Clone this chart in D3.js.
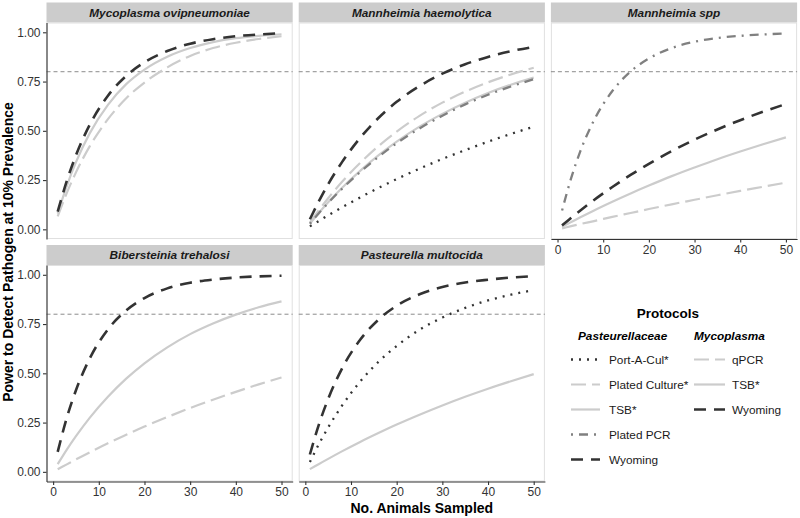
<!DOCTYPE html>
<html><head><meta charset="utf-8">
<script src="https://cdn.jsdelivr.net/npm/d3@7"></script>
<style>body{margin:0;background:#fff} svg{display:block} text{font-family:"Liberation Sans",Arial,Helvetica,sans-serif}</style>
</head><body><svg id="c" width="800" height="518"></svg>
<script>
// ---------- data ----------
const nSampled = [1, 3, 5, 8, 12, 16, 20, 25, 30, 35, 40, 45, 50];
const panelNames = ["Mycoplasma ovipneumoniae", "Mannheimia haemolytica", "Mannheimia spp", "Bibersteinia trehalosi", "Pasteurella multocida"];
const xTickValues = [0, 10, 20, 30, 40, 50];
const yTickValues = [0, 0.25, 0.5, 0.75, 1];
const thresholdPower = 0.8;
const pasteurellaceaeProtocols = ["Port-A-Cul*", "Plated Culture*", "TSB*", "Plated PCR", "Wyoming"];
const mycoplasmaProtocols = ["qPCR", "TSB*", "Wyoming"];

// Mycoplasma ovipneumoniae
const movi_qPCR    = [0.066, 0.185, 0.289, 0.421, 0.559, 0.665, 0.745, 0.822, 0.880, 0.920, 0.947, 0.966, 0.980];
const movi_TSB     = [0.080, 0.221, 0.341, 0.487, 0.632, 0.737, 0.811, 0.876, 0.920, 0.950, 0.970, 0.982, 0.990];
const movi_Wyoming = [0.090, 0.246, 0.376, 0.530, 0.678, 0.779, 0.848, 0.905, 0.942, 0.965, 0.980, 0.989, 0.995];
// Mannheimia haemolytica
const mh_PortACul      = [0.015, 0.043, 0.071, 0.111, 0.162, 0.210, 0.255, 0.308, 0.357, 0.402, 0.445, 0.484, 0.521];
const mh_PlatedCulture = [0.034, 0.098, 0.158, 0.240, 0.337, 0.422, 0.496, 0.576, 0.643, 0.699, 0.746, 0.786, 0.820];
const mh_TSB           = [0.029, 0.084, 0.137, 0.210, 0.297, 0.375, 0.445, 0.521, 0.586, 0.643, 0.692, 0.734, 0.770];
const mh_PlatedPCR     = [0.028, 0.083, 0.134, 0.205, 0.291, 0.368, 0.437, 0.512, 0.577, 0.634, 0.683, 0.725, 0.762];
const mh_Wyoming       = [0.051, 0.144, 0.229, 0.340, 0.464, 0.565, 0.647, 0.727, 0.790, 0.838, 0.875, 0.904, 0.926];
// Mannheimia spp
const mspp_PlatedCulture = [0.005, 0.016, 0.027, 0.042, 0.063, 0.083, 0.103, 0.127, 0.150, 0.173, 0.195, 0.216, 0.237];
const mspp_TSB           = [0.013, 0.037, 0.061, 0.096, 0.140, 0.182, 0.222, 0.270, 0.314, 0.356, 0.395, 0.432, 0.467];
const mspp_PlatedPCR     = [0.096, 0.261, 0.397, 0.554, 0.702, 0.801, 0.867, 0.920, 0.952, 0.971, 0.982, 0.989, 0.994];
const mspp_Wyoming       = [0.020, 0.059, 0.096, 0.149, 0.215, 0.276, 0.332, 0.397, 0.455, 0.507, 0.554, 0.597, 0.636];
// Bibersteinia trehalosi
const bt_PlatedCulture = [0.013, 0.038, 0.063, 0.099, 0.145, 0.188, 0.230, 0.278, 0.324, 0.366, 0.406, 0.444, 0.479];
const bt_TSB           = [0.039, 0.113, 0.181, 0.274, 0.381, 0.473, 0.551, 0.632, 0.699, 0.753, 0.798, 0.835, 0.865];
const bt_Wyoming       = [0.101, 0.275, 0.414, 0.575, 0.723, 0.819, 0.882, 0.931, 0.960, 0.976, 0.986, 0.992, 0.995];
// Pasteurella multocida
const pm_PortACul = [0.050, 0.142, 0.225, 0.335, 0.458, 0.558, 0.639, 0.721, 0.783, 0.832, 0.870, 0.899, 0.922];
const pm_TSB      = [0.014, 0.040, 0.066, 0.104, 0.152, 0.197, 0.240, 0.290, 0.337, 0.381, 0.422, 0.460, 0.496];
const pm_Wyoming  = [0.088, 0.242, 0.370, 0.523, 0.670, 0.772, 0.843, 0.901, 0.938, 0.961, 0.975, 0.986, 0.993];

const seriesTable = [
  {panel: 0, protocol: "qPCR", values: movi_qPCR},
  {panel: 0, protocol: "TSB*", values: movi_TSB},
  {panel: 0, protocol: "Wyoming", values: movi_Wyoming},
  {panel: 1, protocol: "Port-A-Cul*", values: mh_PortACul},
  {panel: 1, protocol: "Plated Culture*", values: mh_PlatedCulture},
  {panel: 1, protocol: "TSB*", values: mh_TSB},
  {panel: 1, protocol: "Plated PCR", values: mh_PlatedPCR},
  {panel: 1, protocol: "Wyoming", values: mh_Wyoming},
  {panel: 2, protocol: "Plated Culture*", values: mspp_PlatedCulture},
  {panel: 2, protocol: "TSB*", values: mspp_TSB},
  {panel: 2, protocol: "Plated PCR", values: mspp_PlatedPCR},
  {panel: 2, protocol: "Wyoming", values: mspp_Wyoming},
  {panel: 3, protocol: "Plated Culture*", values: bt_PlatedCulture},
  {panel: 3, protocol: "TSB*", values: bt_TSB},
  {panel: 3, protocol: "Wyoming", values: bt_Wyoming},
  {panel: 4, protocol: "Port-A-Cul*", values: pm_PortACul},
  {panel: 4, protocol: "TSB*", values: pm_TSB},
  {panel: 4, protocol: "Wyoming", values: pm_Wyoming}
];

// ---------- styles ----------
const lineStyle = {
  "Port-A-Cul*":     {color: "#333333", dash: "2,6",      width: 2.3},
  "Plated Culture*": {color: "#cccccc", dash: "15,6",     width: 2.2},
  "qPCR":            {color: "#cccccc", dash: "15,6",     width: 2.2},
  "TSB*":            {color: "#cccccc", dash: null,       width: 2.2},
  "Plated PCR":      {color: "#808080", dash: "2,6,9,6",  width: 2.3},
  "Wyoming":         {color: "#333333", dash: "12,8",     width: 2.6}
};

const svg = d3.select("#c");
const colX = [46.5, 298.7, 550.9];
const rowTop = [2.5, 245];
const stripH = 20, panelW = 246.2, panelH = 216.5;
const layout = [[0,0],[0,1],[0,2],[1,0],[1,1]];
const hasXAxis = [false, false, true, true, true];
const hasYAxis = [true, false, false, true, false];

const x = d3.scaleLinear().domain([-1.45, 52.45]).range([0, panelW]);
const y = d3.scaleLinear().domain([-0.049, 1.0497]).range([panelH, 0]);
const line = d3.line().x(d => x(d[0])).y(d => y(d[1])).curve(d3.curveMonotoneX);

function styleLine(sel, protocol) {
  const s = lineStyle[protocol];
  sel.attr("fill", "none").attr("stroke", s.color).attr("stroke-width", s.width)
     .attr("stroke-dasharray", s.dash).attr("stroke-linecap", "butt").attr("stroke-linejoin", "round");
}

panelNames.forEach((name, i) => {
  const [r, c] = layout[i];
  const g = svg.append("g").attr("transform", `translate(${colX[c]},${rowTop[r]})`);
  // strip
  g.append("rect").attr("x", 0).attr("y", 0).attr("width", panelW).attr("height", stripH).attr("fill", "#cccccc");
  g.append("text").attr("x", panelW / 2).attr("y", stripH / 2 + 4.2).attr("text-anchor", "middle")
    .attr("font-size", 11.8).attr("font-weight", "bold").attr("font-style", "italic").attr("fill", "#1a1a1a").text(name);
  const p = g.append("g").attr("transform", `translate(0,${stripH})`);
  p.append("rect").attr("x", 0.5).attr("y", 0.5).attr("width", panelW - 1).attr("height", panelH - 1)
    .attr("fill", "#fff").attr("stroke", "#e0e0e0").attr("stroke-width", 1);
  p.append("line").attr("x1", 0).attr("x2", panelW).attr("y1", y(thresholdPower)).attr("y2", y(thresholdPower))
    .attr("stroke", "#8c8c8c").attr("stroke-width", 1).attr("stroke-dasharray", "4,3");
  seriesTable.filter(s => s.panel === i).forEach(s => {
    const pts = nSampled.map((n, k) => [n, s.values[k]]);
    p.append("path").datum(pts).attr("d", line).call(styleLine, s.protocol);
  });
  if (hasYAxis[i]) {
    const ax = p.append("g").call(d3.axisLeft(y).tickValues(yTickValues).tickFormat(d3.format(".2f")).tickSize(3.5).tickSizeOuter(0).tickPadding(2.5));
    ax.select(".domain").attr("stroke", "#333").attr("stroke-width", 1.1);
    ax.selectAll(".tick line").attr("stroke", "#333").attr("stroke-width", 1.1);
    ax.selectAll(".tick text").attr("font-size", 12).attr("fill", "#333").attr("font-family", null);
  }
  if (hasXAxis[i]) {
    const ax = p.append("g").attr("transform", `translate(0,${panelH})`)
      .call(d3.axisBottom(x).tickValues(xTickValues).tickFormat(d3.format("d")).tickSize(3.5).tickSizeOuter(0).tickPadding(2.5));
    ax.select(".domain").attr("stroke", "#333").attr("stroke-width", 1.1);
    ax.selectAll(".tick line").attr("stroke", "#333").attr("stroke-width", 1.1);
    ax.selectAll(".tick text").attr("font-size", 12).attr("fill", "#333").attr("font-family", null);
  }
});

// axis titles
svg.append("text").attr("x", (colX[0] + colX[2] + panelW) / 2).attr("y", 513).attr("text-anchor", "middle")
  .attr("font-size", 14).attr("font-weight", "bold").attr("fill", "#000").text("No. Animals Sampled");
svg.append("text").attr("transform", `translate(12.5,${(rowTop[0] + stripH + rowTop[1] + stripH + panelH) / 2}) rotate(-90)`)
  .attr("text-anchor", "middle").attr("font-size", 14).attr("font-weight", "bold").attr("fill", "#000")
  .text("Power to Detect Pathogen at 10% Prevalence");

// legend
const lg = svg.append("g");
lg.append("text").attr("x", 668).attr("y", 318).attr("text-anchor", "middle").attr("font-size", 13.5)
  .attr("font-weight", "bold").attr("fill", "#000").text("Protocols");
const legendCols = [
  {title: "Pasteurellaceae", titleX: 578, keyX: 571, keyW: 29, labelX: 609, items: pasteurellaceaeProtocols},
  {title: "Mycoplasma", titleX: 694, keyX: 694, keyW: 31, labelX: 732, items: mycoplasmaProtocols}
];
legendCols.forEach(col => {
  lg.append("text").attr("x", col.titleX).attr("y", 339.5).attr("font-size", 11.8).attr("font-weight", "bold")
    .attr("font-style", "italic").attr("fill", "#000").text(col.title);
  col.items.forEach((prot, k) => {
    const yy = 359.5 + k * 25;
    lg.append("line").attr("x1", col.keyX).attr("x2", col.keyX + col.keyW).attr("y1", yy).attr("y2", yy).call(styleLine, prot);
    lg.append("text").attr("x", col.labelX).attr("y", yy + 4.2).attr("font-size", 11.8).attr("fill", "#1a1a1a").text(prot);
  });
});
</script></body></html>
